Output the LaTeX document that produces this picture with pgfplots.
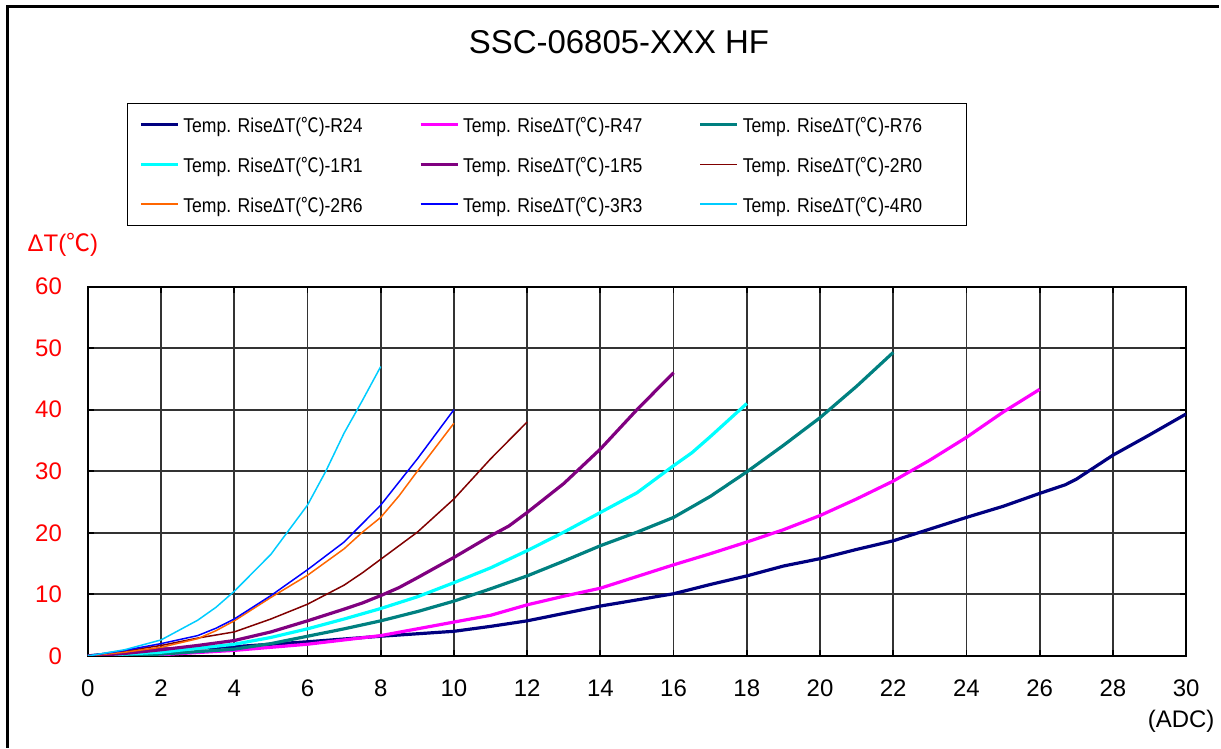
\documentclass[border=0pt]{standalone}
\usepackage{fontspec}
\setmainfont{Liberation Sans}
\newfontfamily\cjk{Noto Sans CJK SC}
\newfontfamily\legfont[FakeStretch=0.88]{Liberation Sans}
\newfontfamily\cjkleg[FakeStretch=0.88]{Noto Sans CJK SC}
\usepackage{pgfplots}
\pgfplotsset{compat=1.18}
\usepackage{pgfplotstable}

\newcommand{\degC}{{\cjk ℃}}
\newcommand{\entry}[1]{\makebox[104pt][l]{\rule[-0.5pt]{0pt}{10pt}\legfont Temp. RiseΔT({\cjkleg ℃})-#1}}

\definecolor{cR24}{RGB}{0,0,128}
\definecolor{cR47}{RGB}{255,0,255}
\definecolor{cR76}{RGB}{0,128,128}
\definecolor{c1R1}{RGB}{0,255,255}
\definecolor{c1R5}{RGB}{128,0,128}
\definecolor{c2R0}{RGB}{128,0,0}
\definecolor{c2R6}{RGB}{255,102,0}
\definecolor{c3R3}{RGB}{0,0,255}
\definecolor{c4R0}{RGB}{0,204,255}

% current (A) vs temperature rise (deg C)
\pgfplotstableread{
x y
0 0
2 1.1
4 1.5
6 2.3
8 3.2
10 4.0
11 4.8
12 5.7
13 6.9
14 8.1
15 9.1
16 10.1
17 11.6
18 13.0
19 14.6
20 15.8
21 17.3
22 18.7
23 20.6
24 22.5
25 24.3
26 26.4
26.7 27.8
27 28.7
28 32.6
29 35.9
30 39.3
}\tR

\pgfplotstableread{
x y
0 0
2 0.2
4 0.9
6 1.9
8 3.3
10 5.5
11 6.6
12 8.3
13 9.7
14 11.0
15 12.9
16 14.8
17 16.6
18 18.5
19 20.5
20 22.8
21 25.5
22 28.4
23 31.8
24 35.5
25 39.6
26 43.3
}\tRb

\pgfplotstableread{
x y
0 0
2 0.3
4 1.1
5 2.0
6 3.2
7 4.4
8 5.7
9 7.2
10 8.9
11 10.9
12 13.0
13 15.4
14 17.9
15 20.1
16 22.5
17 25.9
18 29.9
19 34.2
20 38.7
21 43.8
22 49.3
}\tRc

\pgfplotstableread{
x y
0 0
2 0.6
4 1.9
5 3.0
6 4.4
7 6.0
8 7.7
9 9.6
10 11.9
11 14.3
12 17.1
13 20.1
14 23.3
15 26.5
15.5 28.7
16 30.9
16.5 33.0
17 35.6
17.5 38.3
18 41.0
}\tA

\pgfplotstableread{
x y
0 0
1 0.4
2 1.0
3 1.7
4 2.5
5 3.9
6 5.7
7 7.6
7.5 8.6
8 9.8
8.5 11.1
9 12.7
10 16.0
11 19.5
11.5 21.1
12 23.3
13 28.0
14 33.6
15 40.0
16 46.0
}\tB

\pgfplotstableread{
x y
0 0
1 0.8
2 1.7
3 2.9
4 3.9
5 6.0
6 8.4
7 11.5
7.5 13.5
8 15.7
9 20.1
10 25.5
11 32.0
12 38.0
}\tC

\pgfplotstableread{
x y
0 0
1 0.6
2 1.4
3 2.8
3.5 4.1
4 5.7
5 9.5
6 13.1
7 17.4
7.5 20.1
8 22.5
8.5 26.0
9 30.0
10 37.8
}\tD

\pgfplotstableread{
x y
0 0
1 0.9
2 2.0
3 3.3
3.5 4.5
4 6.0
5 9.8
6 14.0
7 18.5
8 24.5
9 32.0
10 40.0
}\tE

\pgfplotstableread{
x y
0 0
1 1.0
2 2.6
3 5.8
3.5 7.9
4 10.5
5 16.5
6 24.5
6.5 30.0
7 36.2
7.5 41.5
8 47.0
}\tF

\begin{document}
\begin{tikzpicture}
\path (0,0) rectangle (610.5pt,374.5pt);
\draw[line width=1.2pt] (3.75pt,0) -- (3.75pt,371.25pt) -- (610.5pt,371.25pt);
\node[font=\fontsize{16.5}{18}\selectfont] at (310pt,353.5pt) {SSC-06805-XXX HF};
\node[red, font=\fontsize{12}{14}\selectfont] at (31.5pt,252pt) {ΔT(\degC)};
\node[font=\fontsize{12}{14}\selectfont] at (591.5pt,13.5pt) {(ADC)};

\begin{axis}[
  at={(44pt,46pt)}, anchor=south west,
  scale only axis, width=550pt, height=185pt,
  xmin=0, xmax=30, ymin=0, ymax=60,
  xtick={0,2,...,30}, ytick={0,10,...,60},
  grid=major,
  major grid style={black!80, line width=0.9pt},
  axis line style={black, line width=1pt},
  tick align=inside, major tick length=3pt,
  tick style={black, line width=0.9pt},
  /pgf/number format/assume math mode=true,
  tick label style={font=\fontsize{12}{14}\selectfont},
  yticklabel style={red, xshift=-9.5pt},
  xticklabel style={yshift=-8.5pt},
  legend columns=3,
  legend cell align=left,
  legend image code/.code={\draw[#1] (0pt,0pt) -- (18.5pt,0pt);},
  legend style={
    at={(0.03545,1.4973)}, anchor=north west,
    draw=black, line width=0.5pt,
    inner xsep=6pt, inner ysep=3pt, row sep=5pt,
    font=\fontsize{10}{11}\selectfont,
    /tikz/every even column/.append style={column sep=12pt},
  },
]
\addplot[cR24, line width=1.6pt] table {\tR};
\addlegendentry{\entry{R24}}
\addplot[cR47, line width=1.6pt] table {\tRb};
\addlegendentry{\entry{R47}}
\addplot[cR76, line width=1.6pt] table {\tRc};
\addlegendentry{\entry{R76}}
\addplot[c1R1, line width=1.6pt] table {\tA};
\addlegendentry{\entry{1R1}}
\addplot[c1R5, line width=1.6pt] table {\tB};
\addlegendentry{\entry{1R5}}
\addplot[c2R0, line width=0.75pt] table {\tC};
\addlegendentry{\entry{2R0}}
\addplot[c2R6, line width=0.75pt] table {\tD};
\addlegendentry{\entry{2R6}}
\addplot[c3R3, line width=0.75pt] table {\tE};
\addlegendentry{\entry{3R3}}
\addplot[c4R0, line width=0.75pt] table {\tF};
\addlegendentry{\entry{4R0}}
\end{axis}
\end{tikzpicture}
\end{document}
